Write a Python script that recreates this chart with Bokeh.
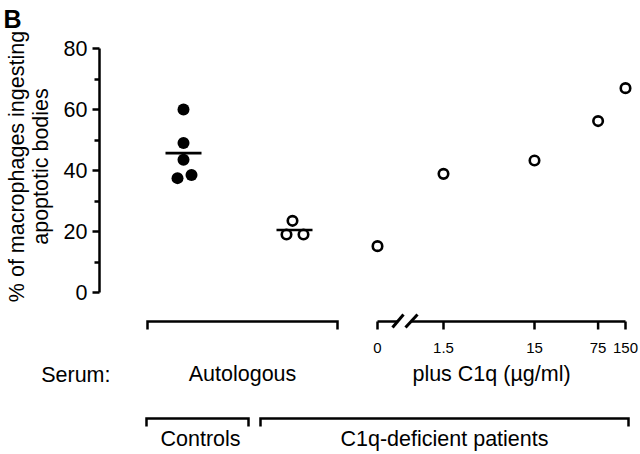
import math
from bokeh.plotting import figure
from bokeh.layouts import column
from bokeh.models import Range1d, LinearAxis, FixedTicker
from bokeh.core.properties import value
from bokeh.embed import file_html
from bokeh.resources import INLINE

# ---------------- data ----------------
control_values = [60, 49, 43.5, 37.5, 38.5]          # controls, autologous serum
autologous_values = [23.5, 19, 19]                   # C1q-deficient patients, autologous serum
c1q_conc = [0, 1.5, 15, 75, 150]                     # µg/ml C1q added
c1q_values = [15.2, 38.9, 43.3, 56.2, 67.0]
c1q_tick_labels = ["0", "1.5", "15", "75", "150"]
y_ticks = [0, 20, 40, 60, 80]
y_minor_ticks = [10, 30, 50, 70]
y_title = "% of macrophages ingesting\napoptotic bodies"
panel_letter = "B"
row_label = "Serum:"

# ---------------- layout ----------------
FONT = "Liberation Sans"
W, H = 640, 454
TOP_H = 312                # height of the upper (data) figure
FRAME_TOP = 32
FRAME_BOTTOM = 300
FRAME_LEFT = 99            # x of the y axis
PX_PER_UNIT = 244 / 80     # vertical pixels per %
Y0 = 292                   # y pixel of 0 %
FS = "21.5px"


def ywin(w):
    return (Y0 - w) / PX_PER_UNIT


CTRL_X, CTRL_JIT = 183, [0, 0, 0, -6, 8]
AUTO_X, AUTO_JIT = 294, [-2, -8, 9]
ZERO_X, FIRST_X, DECADE_PX = 377, 443, 91


def conc_x(c):
    if c == 0:
        return ZERO_X
    return FIRST_X + DECADE_PX * math.log10(c / c1q_conc[1])


# ---------------- upper figure: data ----------------
p = figure(width=W, height=TOP_H, output_backend="svg", toolbar_location=None,
           x_range=Range1d(FRAME_LEFT, W),
           y_range=Range1d(ywin(FRAME_BOTTOM), ywin(FRAME_TOP)),
           x_axis_location=None, y_axis_location=None,
           min_border_left=FRAME_LEFT, min_border_right=0,
           min_border_top=FRAME_TOP, min_border_bottom=TOP_H - FRAME_BOTTOM,
           outline_line_color=None, background_fill_color="white",
           border_fill_color="white")
p.grid.visible = False
p.title.text = panel_letter
p.title.align = "left"
p.title.offset = -96
p.title.standoff = 0
p.title.text_font = FONT
p.title.text_font_size = "25px"
p.title.text_font_style = "bold"
p.title.text_color = "black"

yaxis = LinearAxis(bounds=(0, 80),
                   ticker=FixedTicker(ticks=y_ticks, minor_ticks=y_minor_ticks))
yaxis.axis_line_width = 2.5
yaxis.axis_line_color = "black"
yaxis.major_tick_line_width = 2.5
yaxis.minor_tick_line_width = 2.5
yaxis.major_tick_out = 7
yaxis.major_tick_in = 0
yaxis.minor_tick_out = 5
yaxis.minor_tick_in = 0
yaxis.major_label_text_font = FONT
yaxis.major_label_text_font_size = FS
yaxis.major_label_text_color = "black"
yaxis.major_label_standoff = 5
yaxis.axis_label = y_title
yaxis.axis_label_text_font = FONT
yaxis.axis_label_text_font_size = FS
yaxis.axis_label_text_font_style = "normal"
yaxis.axis_label_text_color = "black"
yaxis.axis_label_text_line_height = 1.0
yaxis.axis_label_standoff = 8
p.add_layout(yaxis, "left")

p.scatter([CTRL_X + j for j in CTRL_JIT], control_values, size=12,
          fill_color="black", line_color=None)
p.scatter([AUTO_X + j for j in AUTO_JIT], autologous_values, size=9.5,
          fill_color="white", line_color="black", line_width=2.6)
p.scatter([conc_x(c) for c in c1q_conc], c1q_values, size=9.5,
          fill_color="white", line_color="black", line_width=2.6)

means = [sum(control_values) / len(control_values),
         sum(autologous_values) / len(autologous_values)]
p.scatter([CTRL_X, AUTO_X], means, marker="dash", size=36,
          line_color="black", line_width=2.6)

# ---------------- lower figure: brackets, C1q scale, group labels ----------------
# vertical positions in this figure are pixel rows (negated so the range is not flipped)
q = figure(width=W, height=H - TOP_H, output_backend="svg", toolbar_location=None,
           x_range=Range1d(FRAME_LEFT, W), y_range=Range1d(-H, -TOP_H),
           x_axis_location=None, y_axis_location=None,
           min_border_left=FRAME_LEFT, min_border_right=0, min_border_top=0,
           min_border_bottom=0, outline_line_color=None,
           background_fill_color="white", border_fill_color="white")
q.grid.visible = False

SERUM_ROW = -374
raxis = LinearAxis(ticker=FixedTicker(ticks=[SERUM_ROW], minor_ticks=[]),
                   major_label_overrides={SERUM_ROW: row_label})
raxis.axis_line_color = None
raxis.major_tick_line_color = None
raxis.minor_tick_line_color = None
raxis.major_tick_out = 0
raxis.major_tick_in = 0
raxis.major_label_standoff = -11
raxis.major_label_text_font = FONT
raxis.major_label_text_font_size = FS
raxis.major_label_text_color = "black"
q.add_layout(raxis, "left")

LW = 2.5
TXT = dict(text_font=value(FONT), text_color="black", text_baseline="middle",
           text_align="center")


def bracket(x0, x1, y, drop=8):
    q.line([x0, x0, x1, x1], [-(y + drop), -y, -y, -(y + drop)],
           line_color="black", line_width=LW, line_join="miter")


AX_Y = 321
bracket(147, 337, AX_Y)                       # Autologous

cx = [conc_x(c) for c in c1q_conc]
q.segment(x0=[cx[0], 411], y0=[-AX_Y] * 2, x1=[397, cx[-1]], y1=[-AX_Y] * 2,
          line_color="black", line_width=LW)
q.segment(x0=cx, y0=[-AX_Y] * len(cx), x1=cx, y1=[-(AX_Y + 8)] * len(cx),
          line_color="black", line_width=LW)
q.segment(x0=[392, 405], y0=[-327] * 2, x1=[403, 417], y1=[-314] * 2,
          line_color="black", line_width=3)
q.text(cx, [-347] * len(cx), text=c1q_tick_labels, text_font_size="15px", **TXT)

q.text([242, 491], [-373.5] * 2, text=["Autologous", "plus C1q (µg/ml)"],
       text_font_size=FS, **TXT)

LOW_Y = 418
bracket(146, 248, LOW_Y)
bracket(260, 628, LOW_Y)
q.text([200, 444], [-438] * 2, text=["Controls", "C1q-deficient patients"],
       text_font_size=FS, **TXT)

layout = column(p, q, spacing=0)
open("out.html", "w").write(file_html(layout, INLINE))
